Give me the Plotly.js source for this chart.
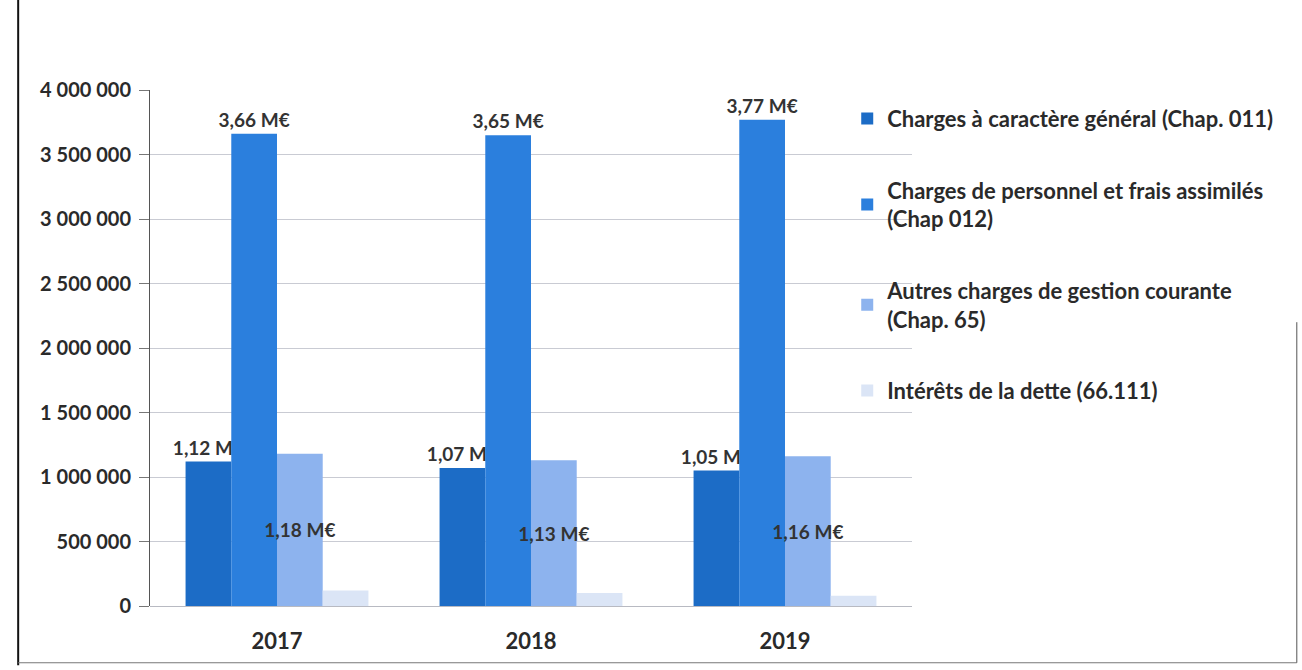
<!DOCTYPE html>
<html>
<head>
<meta charset="utf-8">
<script src="https://cdn.plot.ly/plotly-3.0.1.min.js"></script>
<style>
html,body{margin:0;padding:0;background:#fff;}
#chart{width:1302px;height:670px;}
</style>
</head>
<body>
<div id="chart"></div>
<script>
const years = ['2017', '2018', '2019'];
const seriesNames = [
  'Charges à caractère général (Chap. 011)',
  'Charges de personnel et frais assimilés<br>(Chap 012)',
  'Autres charges de gestion courante<br>(Chap. 65)',
  'Intérêts de la dette (66.111)'
];
const chap011 = [1120000, 1070000, 1050000];
const chap012 = [3660000, 3650000, 3770000];
const chap65 = [1180000, 1130000, 1160000];
const interets = [120000, 100000, 80000];
const yTicks = [0, 500000, 1000000, 1500000, 2000000, 2500000, 3000000, 3500000, 4000000];

const colors = ['#1c6cc6', '#2b7fdd', '#8db3ee', '#dbe5f6'];
const fmt = v => (v / 1e6).toFixed(2).replace('.', ',') + ' M€';
const FAM = 'Lato, "DejaVu Sans", sans-serif';
const lblFont = {family: FAM, size: 19, color: '#333333', weight: 'bold'};

const series = [chap011, chap012, chap65, interets];
const textPos = ['outside', 'outside', 'inside', 'none'];
const traces = series.map((vals, i) => ({
  type: 'bar',
  name: seriesNames[i],
  x: years,
  y: vals,
  marker: {color: colors[i]},
  text: i < 3 ? vals.map(fmt) : undefined,
  textposition: textPos[i],
  insidetextanchor: 'middle',
  textangle: 0,
  constraintext: 'none',
  cliponaxis: false,
  textfont: lblFont,
  insidetextfont: lblFont,
  outsidetextfont: lblFont,
  legendgroup: 'g' + i,
  hoverinfo: 'x+y'
}));

const layout = {
  width: 1302,
  height: 670,
  margin: {l: 150, r: 390, t: 90, b: 64},
  paper_bgcolor: '#ffffff',
  plot_bgcolor: '#ffffff',
  separators: ', ',
  barmode: 'group',
  bargap: 0.28,
  bargroupgap: 0,
  showlegend: true,
  legend: {
    x: 0.915, y: 0.985, xanchor: 'left', yanchor: 'top',
    font: {family: FAM, size: 22, color: '#2a2a2a', weight: 'bold'},
    tracegroupgap: 40,
    traceorder: 'grouped',
    bgcolor: 'rgba(0,0,0,0)',
    itemwidth: 30
  },
  xaxis: {
    type: 'category',
    tickfont: {family: FAM, size: 22, color: '#2a2a2a', weight: 'bold'},
    showline: false,
    ticks: '',
    ticklabelstandoff: 20,
    showgrid: false
  },
  yaxis: {
    range: [0, 4000000],
    tickvals: yTicks,
    tickformat: ',d',
    tickfont: {family: FAM, size: 20, color: '#2a2a2a', weight: 'bold'},
    showline: true,
    linecolor: '#555555',
    linewidth: 1,
    ticks: 'outside',
    ticklen: 10,
    tickcolor: '#777777',
    ticklabelstandoff: 4,
    showgrid: true,
    gridcolor: '#c9cbd3',
    gridwidth: 1,
    zeroline: true,
    zerolinecolor: '#b8bac2'
  },
  shapes: [
    {type: 'line', xref: 'paper', yref: 'paper', x0: -0.173, x1: -0.173, y0: -0.115, y1: 1.175, line: {color: '#111111', width: 2}},
    {type: 'line', xref: 'paper', yref: 'paper', x0: -0.173, x1: 1.505, y0: -0.110, y1: -0.110, line: {color: '#777777', width: 1}},
    {type: 'line', xref: 'paper', yref: 'paper', x0: 1.505, x1: 1.505, y0: -0.110, y1: 0.55, line: {color: '#555555', width: 1}}
  ]
};

Plotly.newPlot('chart', traces, layout, {displayModeBar: false, staticPlot: true});
</script>
</body>
</html>
